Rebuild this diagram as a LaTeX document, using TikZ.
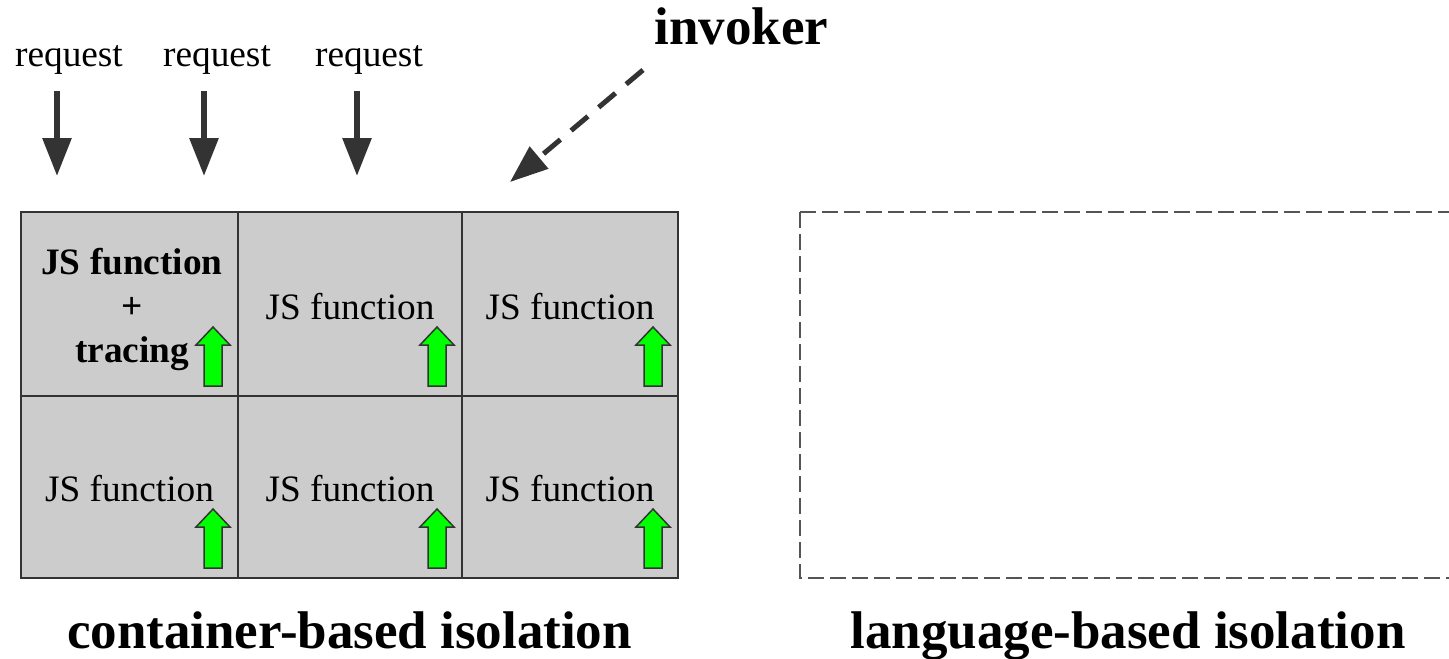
\documentclass[tikz,border=0pt]{standalone}
\usepackage{fontspec}
\setmainfont{Liberation Serif}
\usetikzlibrary{arrows.meta,calc}
\definecolor{ink}{HTML}{333333}
\definecolor{cellgray}{HTML}{CCCCCC}
\definecolor{okgreen}{HTML}{00FF00}
\definecolor{boxline}{HTML}{555555}
\begin{document}
\begin{tikzpicture}[x=0.5pt,y=-0.5pt,
  cell/.style={draw=ink,line width=1pt,fill=cellgray,inner sep=0pt,outer sep=0pt,anchor=north west},
  celltext/.style={font=\fontsize{18.65}{22}\selectfont,anchor=base,inner sep=0pt},
  reqtext/.style={font=\fontsize{18.65}{22}\selectfont,anchor=base,inner sep=0pt},
  bigtext/.style={font=\bfseries\fontsize{26.5}{30}\selectfont,anchor=base,inner sep=0pt},
  reqarrow/.style={draw=ink,line width=3pt,-{Triangle[length=19pt,width=14pt]}},
  invarrow/.style={draw=ink,line width=2.5pt,dash pattern=on 11pt off 7pt,-{Triangle[length=19pt,width=14pt]}},
  uparrow/.style={draw=ink,line width=0.75pt,fill=okgreen,line join=miter},
  sandbox/.style={draw=boxline,line width=0.75pt,dash pattern=on 8pt off 3pt}]
\useasboundingbox (0,0) rectangle (1449,658);

% incoming requests
\node[reqtext] (r1) at (69,67) {request};
\node[reqtext] (r2) at (217,67) {request};
\node[reqtext] (r3) at (369,67) {request};
\coordinate (r1top) at (57,91);  \coordinate (r1tip) at (57,176);
\coordinate (r2top) at (204,91); \coordinate (r2tip) at (204,176);
\coordinate (r3top) at (357,91); \coordinate (r3tip) at (357,176);
\draw[reqarrow] (r1top) -- (r1tip);
\draw[reqarrow] (r2top) -- (r2tip);
\draw[reqarrow] (r3top) -- (r3tip);

% invoker
\node[bigtext] (inv) at (741.5,45) {invoker};
\coordinate (invtail) at (643,70);
\coordinate (invtip) at (510,182);
\draw[invarrow] (invtail) -- (invtip);

% container grid
\node[cell,minimum width=108.5pt,minimum height=92pt] (c11) at (21,212) {};
\node[cell,minimum width=112pt,minimum height=92pt] (c12) at (238,212) {};
\node[cell,minimum width=108pt,minimum height=92pt] (c13) at (462,212) {};
\node[cell,minimum width=108.5pt,minimum height=91pt] (c21) at (21,396) {};
\node[cell,minimum width=112pt,minimum height=91pt] (c22) at (238,396) {};
\node[cell,minimum width=108pt,minimum height=91pt] (c23) at (462,396) {};

\node[font=\bfseries\fontsize{18.65}{22}\selectfont,align=center,inner sep=0pt] (t11) at (132,309) {JS function\\+\\tracing};
\node[celltext] (t12) at (350,319) {JS function};
\node[celltext] (t13) at (570,319) {JS function};
\node[celltext] (t21) at (129.5,501) {JS function};
\node[celltext] (t22) at (350,501) {JS function};
\node[celltext] (t23) at (570,501) {JS function};

% green up arrows in the lower right of each cell
\foreach \c in {c11,c12,c13,c21,c22,c23}{
  \draw[uparrow,shift={(\c.south east)}]
    (-34,-10) -- (-16,-10) -- (-16,-51) -- (-8,-51) -- (-25,-69)
    -- (-42,-51) -- (-34,-51) -- cycle;
}

% language-based sandbox (open to the right)
\draw[sandbox] (800,212) -- (1460,212);
\draw[sandbox] (800,212) -- (800,578) -- (1460,578);

% captions
\node[bigtext] (cap1) at (349.5,648) {container-based isolation};
\node[bigtext] (cap2) at (1128,648) {language-based isolation};
\end{tikzpicture}
\end{document}
